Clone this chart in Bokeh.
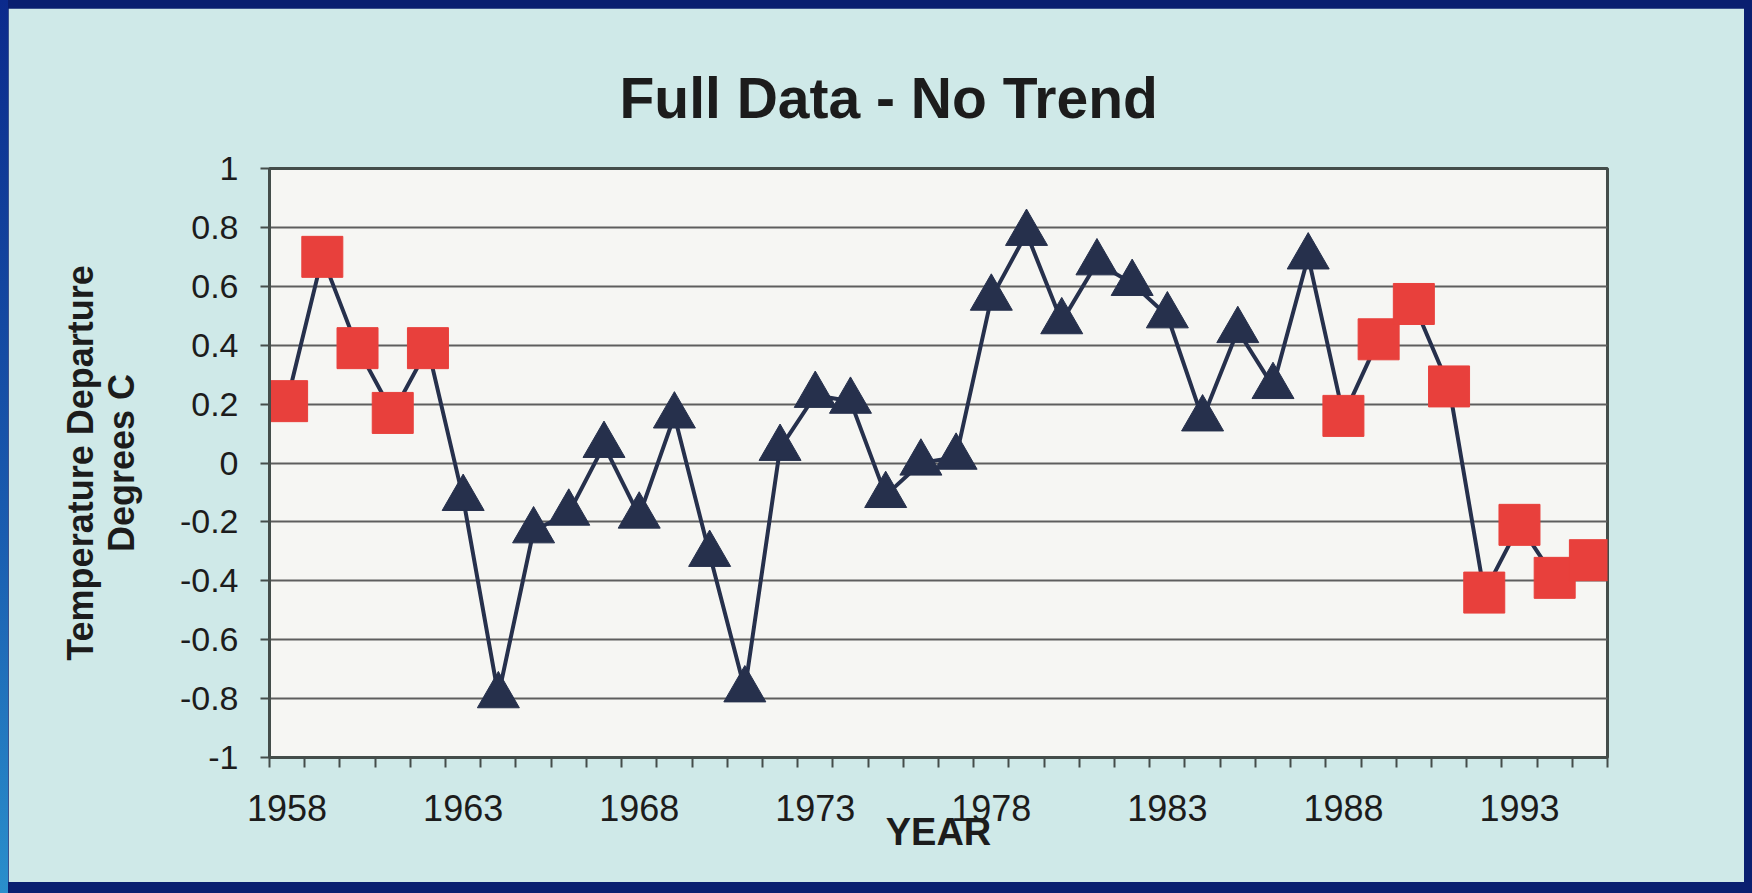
from bokeh.plotting import figure
from bokeh.models import (Range1d, FixedTicker, NumeralTickFormatter,
                          GlobalInlineStyleSheet)
from bokeh.embed import file_html
from bokeh.resources import INLINE

# ---------------- data ----------------
years = [1958, 1959, 1960, 1961, 1962, 1963, 1964, 1965, 1966, 1967,
         1968, 1969, 1970, 1971, 1972, 1973, 1974, 1975, 1976, 1977,
         1978, 1979, 1980, 1981, 1982, 1983, 1984, 1985, 1986, 1987,
         1988, 1989, 1990, 1991, 1992, 1993, 1994, 1995]
temps = [0.21, 0.70, 0.39, 0.17, 0.39, -0.12, -0.79, -0.23, -0.17, 0.06,
         -0.18, 0.16, -0.31, -0.77, 0.05, 0.23, 0.21, -0.11, 0.00, 0.02,
         0.56, 0.78, 0.48, 0.68, 0.61, 0.50, 0.15, 0.45, 0.26, 0.70,
         0.16, 0.42, 0.54, 0.26, -0.44, -0.21, -0.39, -0.33]
early_end = 1962      # last year of the first red (square) period
late_start = 1988     # first year of the second red (square) period

label_years = [1958, 1963, 1968, 1973, 1978, 1983, 1988, 1993]
y_ticks = [-1.0, -0.8, -0.6, -0.4, -0.2, 0.0, 0.2, 0.4, 0.6, 0.8, 1.0]

title_text = "Full Data - No Trend"
x_title = "YEAR"
y_title = "Temperature Departure\nDegrees C"

# ---------------- styles ----------------
FONT = "Liberation Sans"
PANEL = "#cfe9e8"
PLOT_BG = "#f6f6f3"
NAVY = "#26304c"
RED = "#e8403c"
FRAME = "#444d4a"
GRID = "#5e5e5e"
TEXT = "#1c1c1c"

red_x = [y for y in years if y <= early_end or y >= late_start]
red_y = [t for y, t in zip(years, temps) if y <= early_end or y >= late_start]
tri_x = [y for y in years if early_end < y < late_start]
tri_y = [t for y, t in zip(years, temps) if early_end < y < late_start]

p = figure(width=1737, height=874, output_backend="svg", toolbar_location=None,
           x_range=Range1d(years[0] - 0.5, years[-1] + 0.5),
           y_range=Range1d(y_ticks[0], y_ticks[-1]),
           min_border_left=261, min_border_right=138,
           min_border_top=160, min_border_bottom=125,
           border_fill_color=PANEL, background_fill_color=PLOT_BG)

p.stylesheets = [GlobalInlineStyleSheet(css=(
    "html{height:100%;background:"
    "linear-gradient(to bottom,#0b2a8c 0%,#1a5db0 60%,#2a8fcc 100%) 0 0/8px 100% no-repeat,"
    "#0a1f70;}"
    "body{margin:8px !important;padding:0 !important;}"))]

# title
p.title.text = title_text
p.title.text_font = FONT
p.title.text_font_style = "bold"
p.title.text_font_size = "57px"
p.title.text_color = TEXT
p.title.align = "left"
p.title.offset = 350
p.title.standoff = 78

p.outline_line_color = FRAME
p.outline_line_width = 3

# grid
p.xgrid.visible = False
p.ygrid.grid_line_color = GRID
p.ygrid.grid_line_width = 2

# y axis
p.yaxis.ticker = FixedTicker(ticks=y_ticks)
p.yaxis.formatter = NumeralTickFormatter(format="0.[0]")
p.yaxis.major_label_text_font = FONT
p.yaxis.major_label_text_font_size = "34px"
p.yaxis.major_label_text_color = TEXT
p.yaxis.major_label_standoff = 22
p.yaxis.major_tick_out = 9
p.yaxis.major_tick_in = 0
p.yaxis.major_tick_line_color = FRAME
p.yaxis.major_tick_line_width = 2
p.yaxis.minor_tick_line_color = None
p.yaxis.axis_line_color = FRAME
p.yaxis.axis_line_width = 3
p.yaxis.axis_label = y_title
p.yaxis.axis_label_text_font = FONT
p.yaxis.axis_label_text_font_style = "bold"
p.yaxis.axis_label_text_font_size = "36px"
p.yaxis.axis_label_text_line_height = 1.0
p.yaxis.axis_label_text_color = TEXT
p.yaxis.axis_label_standoff = 35

# x axis (category-style: ticks between years, labels every 5 years)
boundaries = [y - 0.5 for y in years] + [years[-1] + 0.5]
p.xaxis.ticker = FixedTicker(ticks=label_years, minor_ticks=boundaries)
p.xaxis.formatter = NumeralTickFormatter(format="0")
p.xaxis.major_tick_out = 0
p.xaxis.major_tick_in = 0
p.xaxis.minor_tick_out = 10
p.xaxis.minor_tick_in = 0
p.xaxis.minor_tick_line_color = FRAME
p.xaxis.minor_tick_line_width = 2
p.xaxis.axis_line_color = FRAME
p.xaxis.axis_line_width = 3
p.xaxis.major_label_text_font = FONT
p.xaxis.major_label_text_font_size = "36px"
p.xaxis.major_label_text_color = TEXT
p.xaxis.major_label_standoff = 27
p.xaxis.axis_label = x_title
p.xaxis.axis_label_text_font = FONT
p.xaxis.axis_label_text_font_style = "bold"
p.xaxis.axis_label_text_font_size = "38px"
p.xaxis.axis_label_text_color = TEXT
p.xaxis.axis_label_standoff = -13

# series
p.line(years, temps, line_color=NAVY, line_width=4)
p.scatter(tri_x, tri_y, marker="triangle", size=42,
          fill_color=NAVY, line_color=NAVY)
p.scatter(red_x, red_y, marker="square", size=41,
          fill_color=RED, line_color=RED)

open("out.html", "w").write(file_html(p, INLINE))
